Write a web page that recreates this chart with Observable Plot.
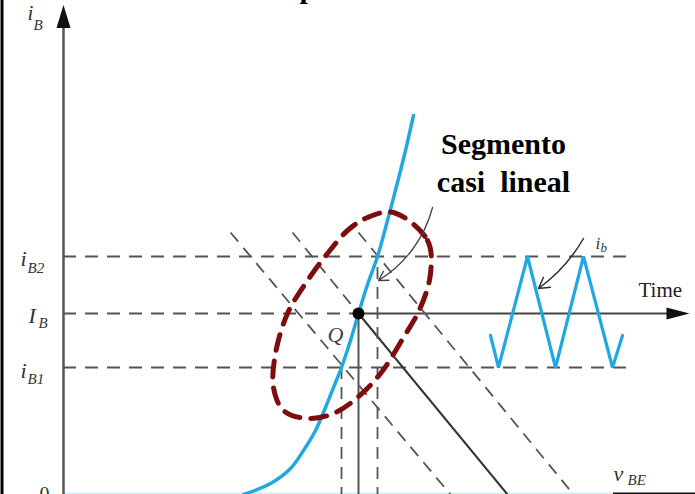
<!DOCTYPE html>
<html>
<head>
<meta charset="utf-8">
<script src="https://cdn.jsdelivr.net/npm/d3@7"></script>
<script src="https://cdn.jsdelivr.net/npm/@observablehq/plot@0.6"></script>
<style>
  html, body { margin: 0; padding: 0; background: #fff; }
  #chart svg { display: block; }
</style>
</head>
<body>
<div id="chart"></div>
<script>
// ---- data (diagram units: x = v_BE axis, y = i_B axis) ----
const axisV = 63;
const levelNames = ["iB2", "IB", "iB1"];
const levelI = [238, 181, 127];           // i_B2, I_B, i_B1
const levelEndV = [630, 358, 630];         // where the dashed level lines end
const qV = 358;                            // operating point Q
const qI = 181;
const timeEndV = 672;

// input characteristic i_B(v_BE)
const curveV = [243, 270, 290, 303, 315, 325, 333, 341, 350, 358, 367, 377, 387, 397, 405, 413];
const curveI = [0, 11, 26, 44, 64, 87, 107, 127, 154, 181, 210, 238, 274, 312, 344, 379];

// load lines (start top-left, end at v axis bottom)
const loadV1 = [230, 292, 358];
const loadI1 = [262, 262, 262];
const loadV2 = [450, 507, 573];

// projections from curve down to v_BE axis
const projV = [341, 358, 377];
const projI = [127, 181, 238];

// triangle wave i_b(t)
const waveT = [490, 498, 527, 555, 583, 612, 622];
const waveI = [159, 127, 238, 127, 238, 127, 159];

// dashed ellipse outline
const ellV = [393, 427, 430, 420, 403, 380, 357, 333, 307, 283, 273, 275, 287, 307, 327, 347, 367];
const ellI = [282, 254, 221, 187, 157, 121, 97, 81, 76, 84, 107, 141, 181, 214, 241, 264, 277];

// labels: main letter + subscript
const labMain = ["i", "i", "I", "i", "i", "v"];
const labSub  = ["B", "B2", "B", "B1", "b", "BE"];
const labV    = [27, 20, 28, 20, 595, 613];
const labI    = [475, 229, 172, 117, 246, 14];
const subV    = [33, 27, 38, 27, 600, 627];
const subI    = [465, 222, 167, 111, 243, 10];
const labSize = [21, 22, 22, 22, 17, 22];
const subSize = [15, 15, 15, 15, 13, 15];

const noteLines = ["Segmento", "casi\u00a0 lineal"];
const noteI = [341, 303];
const noteV = 503;

// ---- build tables ----
const curve = curveV.map((v, i) => ({v, i: curveI[i]}));
const wave = waveT.map((t, i) => ({t, i: waveI[i]}));
const ellipse = ellV.map((v, i) => ({v, i: ellI[i]}));
const levels = levelNames.map((n, k) => ({n, i: levelI[k], end: levelEndV[k]}));
const loadDashed = [
  {v1: loadV1[0], i1: loadI1[0], v2: loadV2[0], i2: 0},
  {v1: loadV1[1], i1: loadI1[1], v2: qV, i2: qI},
  {v1: loadV1[2], i1: loadI1[2], v2: loadV2[2], i2: 0}
];
const loadSolid = [{v1: qV, i1: qI, v2: loadV2[1], i2: 0}];
const projDashed = [{v: projV[0], i: projI[0]}, {v: projV[2], i: projI[2]}];
const labels = labMain.map((m, k) => ({m, s: labSub[k], v: labV[k], i: labI[k], sv: subV[k], si: subI[k], fs: labSize[k], ss: subSize[k]}));
const notes = noteLines.map((t, k) => ({t, i: noteI[k]}));

const headUp = {draw(c) { c.moveTo(0, -12); c.lineTo(7, 11); c.lineTo(-7, 11); c.closePath(); }};
const headRight = {draw(c) { c.moveTo(0, -12); c.lineTo(6, 11); c.lineTo(-6, 11); c.closePath(); }};

const serif = "'Liberation Serif', 'DejaVu Serif', serif";
const blue = "#22a8e0";
const gray = "#555";

const chart = Plot.plot({
  width: 695,
  height: 494,
  margin: 0,
  x: {domain: [0, 695], axis: null},
  y: {domain: [0, 494], axis: null},
  style: {background: "#fff", overflow: "hidden"},
  marks: [
    // left scan border
    Plot.ruleX([1.5], {y1: -10, y2: 504, stroke: "#000", strokeWidth: 3}),
    // v_BE axis (bottom)
    Plot.ruleY([1], {x1: axisV, x2: 613, stroke: "#d6eef6", strokeWidth: 2}),
    Plot.ruleY([1], {x1: 613, x2: 700, stroke: "#111", strokeWidth: 2}),
    // i_B axis
    Plot.ruleX([axisV], {y1: -10, y2: 470, stroke: gray, strokeWidth: 2.5}),
    Plot.dot([{v: axisV, i: 477.5}], {x: "v", y: "i", symbol: headUp, fill: "#111", stroke: null}),
    // level lines
    Plot.ruleY(levels, {y: "i", x1: axisV, x2: "end", stroke: gray, strokeWidth: 2, strokeDasharray: "13,9"}),
    // time axis from Q
    Plot.ruleY([qI], {x1: qV, x2: timeEndV, stroke: "#444", strokeWidth: 2}),
    Plot.dot([{v: 677, i: qI}], {x: "v", y: "i", symbol: headRight, rotate: 90, fill: "#111", stroke: null}),
    // load lines
    Plot.link(loadDashed, {x1: "v1", y1: "i1", x2: "v2", y2: "i2", stroke: gray, strokeWidth: 1.8, strokeDasharray: "12,8"}),
    Plot.link(loadSolid, {x1: "v1", y1: "i1", x2: "v2", y2: "i2", stroke: "#333", strokeWidth: 2}),
    // projections
    Plot.ruleX(projDashed, {x: "v", y1: -5, y2: "i", stroke: gray, strokeWidth: 1.8, strokeDasharray: "12,8"}),
    Plot.ruleX([projV[1]], {y1: -5, y2: projI[1], stroke: "#555", strokeWidth: 2}),
    // input characteristic
    Plot.line(curve, {x: "v", y: "i", curve: "catmull-rom", stroke: blue, strokeWidth: 3.5}),
    // triangle wave
    Plot.line(wave, {x: "t", y: "i", stroke: blue, strokeWidth: 3.2, strokeLinejoin: "miter"}),
    // ellipse
    Plot.line(ellipse, {x: "v", y: "i", curve: "catmull-rom-closed", stroke: "#7e0d0d", strokeWidth: 5, strokeDasharray: "16,11"}),
    // Q point
    Plot.dot([{v: qV, i: qI}], {x: "v", y: "i", r: 6, fill: "#000"}),
    // annotation arrows
    Plot.arrow([{x1: 432, y1: 287, x2: 378, y2: 214}], {x1: "x1", y1: "y1", x2: "x2", y2: "y2", bend: 22, headLength: 12, stroke: "#444", strokeWidth: 1.3}),
    Plot.arrow([{x1: 583, y1: 256, x2: 538, y2: 206}], {x1: "x1", y1: "y1", x2: "x2", y2: "y2", bend: 12, headLength: 12, stroke: "#333", strokeWidth: 1.5}),
    // labels
    Plot.text(labels, {x: "v", y: "i", text: "m", fontSize: (d) => d.fs, fontFamily: serif, fontStyle: "italic", textAnchor: "start", lineAnchor: "bottom", fill: "#333"}),
    Plot.text(labels, {x: "sv", y: "si", text: "s", fontSize: (d) => d.ss, fontFamily: serif, fontStyle: "italic", textAnchor: "start", lineAnchor: "bottom", fill: "#333"}),
    Plot.text(["Q"], {x: 335, y: 153, fontSize: 22, fontFamily: serif, fontStyle: "italic", lineAnchor: "bottom", fill: "#444"}),
    Plot.text(["0"], {x: 44, y: -6, fontSize: 20, fontFamily: serif, lineAnchor: "bottom", fill: "#333"}),
    Plot.text(["Time"], {x: 638, y: 198, fontSize: 21, fontFamily: serif, textAnchor: "start", lineAnchor: "bottom", fill: "#222"}),
    Plot.text(notes, {x: noteV, y: "i", text: "t", fontSize: 30, fontWeight: "bold", fontFamily: serif, lineAnchor: "bottom", fill: "#000"}),
    Plot.text(["p"], {x: 299, y: 497, fontSize: 30, fontWeight: "bold", fontFamily: serif, textAnchor: "start", lineAnchor: "bottom", fill: "#000"})
  ]
});
document.getElementById("chart").appendChild(chart);
</script>
</body>
</html>
